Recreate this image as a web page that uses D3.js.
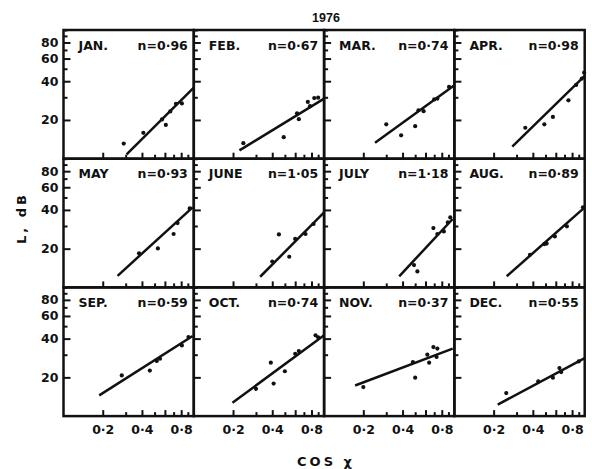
<!DOCTYPE html>
<html>
<head>
<meta charset="utf-8">
<script src="https://cdn.jsdelivr.net/npm/d3@7"></script>
<style>
  body { margin: 0; background: #fff; }
  text { font-family: "DejaVu Sans", sans-serif; font-weight: bold; fill: #111; }
</style>
</head>
<body>
<script>
//Panel names and the slope printed in each one
var months = ["JAN.", "FEB.", "MAR.", "APR.", "MAY", "JUNE", "JULY", "AUG.", "SEP.", "OCT.", "NOV.", "DEC."];
var nValues = [0.96, 0.67, 0.74, 0.98, 0.93, 1.05, 1.18, 0.89, 0.59, 0.74, 0.37, 0.55];

//Measured points, cos X and L (dB) for every month
var pointsCos = [
  [0.29, 0.41, 0.57, 0.61, 0.66, 0.73, 0.81],
  [0.24, 0.49, 0.62, 0.64, 0.75, 0.78, 0.84, 0.90],
  [0.30, 0.39, 0.50, 0.53, 0.58, 0.70, 0.74, 0.91],
  [0.35, 0.49, 0.57, 0.75, 0.86, 0.95, 0.99],
  [0.38, 0.53, 0.70, 0.75, 0.93],
  [0.40, 0.45, 0.54, 0.60, 0.72, 0.83],
  [0.49, 0.52, 0.69, 0.74, 0.83, 0.89, 0.93],
  [0.38, 0.49, 0.51, 0.59, 0.73, 0.97],
  [0.28, 0.46, 0.52, 0.55, 0.81, 0.91],
  [0.30, 0.39, 0.41, 0.50, 0.60, 0.64, 0.86, 0.90],
  [0.20, 0.48, 0.50, 0.62, 0.64, 0.69, 0.74, 0.73],
  [0.25, 0.44, 0.57, 0.64, 0.66, 0.90]
];
var pointsL = [
  [13.1, 15.9, 20.2, 18.3, 23.3, 26.7, 26.9],
  [13.2, 14.7, 22.5, 20.3, 27.6, 25.6, 29.6, 29.8],
  [18.5, 15.2, 17.9, 23.8, 23.4, 28.9, 29.3, 36.1],
  [17.4, 18.5, 21.1, 28.4, 37.4, 41.9, 46.6],
  [18.4, 20.1, 26.0, 31.6, 41.1],
  [15.9, 25.8, 17.3, 23.8, 26.0, 31.1],
  [14.9, 13.3, 28.9, 26.0, 27.2, 32.0, 35.0],
  [17.9, 21.7, 21.9, 24.9, 29.8, 41.9],
  [20.7, 22.6, 26.8, 27.9, 35.4, 41.1],
  [16.3, 26.0, 17.9, 22.3, 30.5, 32.0, 42.4, 41.0],
  [16.8, 26.3, 19.9, 30.0, 26.0, 34.4, 33.5, 28.8],
  [15.1, 18.6, 19.9, 23.6, 22.0, 26.6]
];

//Fitted line ends [cos X, L]
var fitStart = [[0.305, 10.8], [0.224, 11.6], [0.246, 13.3], [0.278, 12.4], [0.26, 12.3], [0.323, 12.1],
                [0.377, 12.2], [0.252, 12.2], [0.188, 14.5], [0.198, 12.7], [0.173, 17.3], [0.215, 12.3]];
var fitEnd = [[1, 35.6], [1, 29.3], [1, 37.2], [1, 44], [0.98, 41.9], [1, 38.3],
              [0.97, 34], [1, 41.9], [0.98, 41.9], [1, 42.4], [0.97, 33.4], [1, 28.2]];

//Ticks
var yMajor = [20, 40, 60, 80];
var yMinor = [30, 50, 70, 90, 100];
var xMajor = [0.2, 0.4, 0.6, 0.8];
var xMinor = [0.3, 0.5, 0.7, 0.9];
var xLabels = [0.2, 0.4, 0.8];

function fmt(v){
  return d3.format(".2f")(v).replace(".", "\u00b7");
}

function drawChart(){
  var w = 592, h = 469;
  var left = 63.5, top = 30;
  var pw = 130.3, ph = 128.7;

  var svg = d3.select("body")
              .append("svg")
              .attr("width", w)
              .attr("height", h);

  var x = d3.scaleLog().domain([0.1, 1]).range([0, pw]);
  var y = d3.scaleLog().domain([10, 100]).range([ph, 0]);

  var line = d3.line()
               .x(function(d){ return x(d[0]); })
               .y(function(d){ return y(d[1]); });

  months.forEach(function(m, i){
    var col = i % 4, row = Math.floor(i / 4);
    var g = svg.append("g")
               .attr("transform", "translate(" + (left + col * pw) + "," + (top + row * ph) + ")");

    //Left ticks, pointing inwards
    g.append("g")
     .call(d3.axisLeft(y).tickValues(yMajor).tickSize(-7).tickPadding(5)
             .tickFormat(col == 0 ? d3.format("d") : ""));
    g.append("g")
     .call(d3.axisLeft(y).tickValues(yMinor).tickSize(-4).tickFormat(""));

    //Bottom ticks
    g.append("g")
     .attr("transform", "translate(0," + ph + ")")
     .call(d3.axisBottom(x).tickValues(xMajor).tickSize(-6).tickPadding(9)
             .tickFormat(function(d){
               return (row == 2 && xLabels.indexOf(d) >= 0) ? fmt(d).replace(/0$/, "") : "";
             }));
    g.append("g")
     .attr("transform", "translate(0," + ph + ")")
     .call(d3.axisBottom(x).tickValues(xMinor).tickSize(-4).tickFormat(""));

    g.selectAll(".domain").remove();
    g.selectAll(".tick line").attr("stroke", "#111").attr("stroke-width", 2);
    g.selectAll(".tick text").style("font-size", "12.5px").attr("fill", "#111");

    //Frame
    g.append("rect")
     .attr("width", pw)
     .attr("height", ph)
     .attr("fill", "none")
     .attr("stroke", "#111")
     .attr("stroke-width", 2.5);

    //Fitted line
    g.append("path")
     .datum([fitStart[i], fitEnd[i]])
     .attr("d", line)
     .attr("stroke", "#111")
     .attr("stroke-width", 2.5)
     .attr("fill", "none");

    //Points
    g.selectAll("circle")
     .data(d3.zip(pointsCos[i], pointsL[i]))
     .enter()
     .append("circle")
     .attr("cx", function(d){ return x(d[0]); })
     .attr("cy", function(d){ return y(d[1]); })
     .attr("r", 2.1)
     .attr("fill", "#111");

    //Month and n
    g.append("text")
     .attr("x", 15)
     .attr("y", 19.5)
     .style("font-size", "12.5px")
     .text(m);
    g.append("text")
     .attr("x", pw - 6)
     .attr("y", 19.5)
     .attr("text-anchor", "end")
     .style("font-size", "12.5px")
     .text("n=" + fmt(nValues[i]));
  });

  //Title and axis names
  svg.append("text")
     .attr("x", 326)
     .attr("y", 21.5)
     .attr("text-anchor", "middle")
     .style("font-family", "Liberation Sans")
     .style("font-size", "12.5px")
     .text("1976");

  svg.append("text")
     .attr("transform", "translate(26,218) rotate(-90)")
     .attr("text-anchor", "middle")
     .style("font-size", "13px")
     .style("letter-spacing", "3px")
     .text("L, dB");

  svg.append("text")
     .attr("x", 326)
     .attr("y", 466)
     .attr("text-anchor", "middle")
     .style("font-size", "13px")
     .style("letter-spacing", "3px")
     .text("COS \u03c7");
}

drawChart();
</script>
</body>
</html>
